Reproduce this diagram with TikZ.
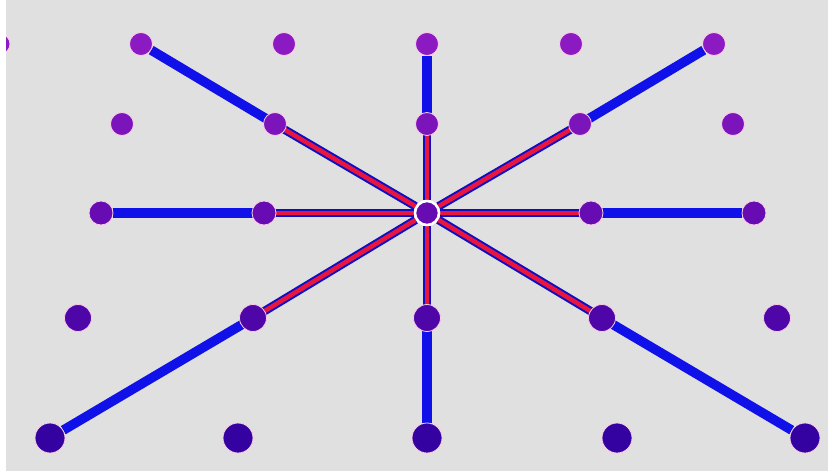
\documentclass[tikz,border=0pt]{standalone}
\usetikzlibrary{positioning}

\definecolor{paper}{RGB}{224,224,224}
\definecolor{rowa}{RGB}{140,26,194}
\definecolor{rowb}{RGB}{124,20,188}
\definecolor{rowc}{RGB}{102,12,178}
\definecolor{rowd}{RGB}{78,6,168}
\definecolor{rowe}{RGB}{52,2,160}
\definecolor{barblue}{RGB}{16,16,232}
\definecolor{barred}{RGB}{232,22,62}

\pgfdeclarelayer{back}
\pgfdeclarelayer{bars}
\pgfsetlayers{back,bars,main}

\begin{document}
\begin{tikzpicture}[
			x=1pt, y=-1pt,
			dot/.style={
					circle,
					inner sep=0pt,
					minimum size=#1,
					draw=white!80!magenta,
					line width=0.8pt
				},
			dot/.default=23pt,
			outerbar/.style={
					draw=barblue,
					line width=9.5pt
				},
			innerbar/.style={
					draw=barblue!85!black,
					line width=2pt,
					double=barred,
					double distance=4.5pt
				}
		]

		\useasboundingbox (0,0) rectangle (828,471);
		\begin{pgfonlayer}{back}
			\fill[paper] (0,0) rectangle (828,471);
		\end{pgfonlayer}

		% top row
		\node (a0) [dot=20pt, fill=rowa] at (0,44) {};
		\node (a1) [dot, fill=rowa] at (141,44) {};
		\node (a2) [dot, fill=rowa] at (284,44) {};
		\node (a3) [dot, fill=rowa] at (427,44) {};
		\node (a4) [dot, fill=rowa] at (571,44) {};
		\node (a5) [dot, fill=rowa] at (714,44) {};
		\fill[white] (0,0) rectangle (6,471);

		% second row
		\node (b1) [dot, fill=rowb] at (122,124) {};
		\node (b2) [dot, fill=rowb] at (275,124) {};
		\node (b3) [dot, fill=rowb] at (427,124) {};
		\node (b4) [dot, fill=rowb] at (580,124) {};
		\node (b5) [dot, fill=rowb] at (733,124) {};

		% middle row
		\node (c1) [dot=24pt, fill=rowc] at (101,213) {};
		\node (c2) [dot=24pt, fill=rowc] at (264,213) {};
		\node (ctr) [dot=24pt, fill=rowc, draw=white, line width=2.5pt] at (427,213) {};
		\node (c4) [dot=24pt, fill=rowc] at (591,213) {};
		\node (c5) [dot=24pt, fill=rowc] at (754,213) {};

		% fourth row
		\node (d1) [dot=27pt, fill=rowd] at (78,318) {};
		\node (d2) [dot=27pt, fill=rowd] at (253,318) {};
		\node (d3) [dot=27pt, fill=rowd] at (427,318) {};
		\node (d4) [dot=27pt, fill=rowd] at (602,318) {};
		\node (d5) [dot=27pt, fill=rowd] at (777,318) {};

		% bottom row
		\node (e1) [dot=30pt, fill=rowe] at (50,438) {};
		\node (e2) [dot=30pt, fill=rowe] at (238,438) {};
		\node (e3) [dot=30pt, fill=rowe] at (427,438) {};
		\node (e4) [dot=30pt, fill=rowe] at (617,438) {};
		\node (e5) [dot=30pt, fill=rowe] at (805,438) {};

		\begin{pgfonlayer}{bars}
			\draw[outerbar] (b2.center) -- (a1);
			\draw[outerbar] (b3.center) -- (a3);
			\draw[outerbar] (b4.center) -- (a5);
			\draw[outerbar] (c2.center) -- (c1);
			\draw[outerbar] (c4.center) -- (c5);
			\draw[outerbar] (d2.center) -- (e1);
			\draw[outerbar] (d3.center) -- (e3);
			\draw[outerbar] (d4.center) -- (e5);

			\draw[innerbar] (ctr) -- (b2.center);
			\draw[innerbar] (ctr) -- (b3.center);
			\draw[innerbar] (ctr) -- (b4.center);
			\draw[innerbar] (ctr) -- (c2.center);
			\draw[innerbar] (ctr) -- (c4.center);
			\draw[innerbar] (ctr) -- (d2.center);
			\draw[innerbar] (ctr) -- (d3.center);
			\draw[innerbar] (ctr) -- (d4.center);
		\end{pgfonlayer}

	\end{tikzpicture}
\end{document}
